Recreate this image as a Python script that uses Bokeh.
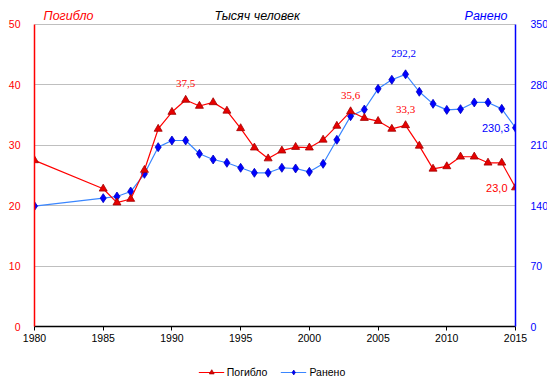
from bokeh.plotting import figure
from bokeh.layouts import column
from bokeh.models import (Range1d, LinearAxis, FixedTicker, ColumnDataSource, LabelSet,
                          Label, Legend, LegendItem)
from bokeh.embed import file_html
from bokeh.resources import INLINE

years = [1980, 1985, 1986, 1987, 1988, 1989, 1990, 1991, 1992, 1993, 1994, 1995, 1996,
         1997, 1998, 1999, 2000, 2001, 2002, 2003, 2004, 2005, 2006, 2007, 2008, 2009,
         2010, 2011, 2012, 2013, 2014, 2015]
killed = [27.5, 22.8, 20.5, 21.1, 25.9, 32.7, 35.5, 37.5, 36.5, 37.1, 35.7, 32.8, 29.6,
          27.8, 29.1, 29.7, 29.6, 30.9, 33.2, 35.6, 34.5, 34.0, 32.7, 33.3, 29.9, 26.1,
          26.5, 28.1, 28.1, 27.1, 27.1, 23.0]
injured = [139.5, 148.7, 150.6, 156.4, 176.9, 207.8, 215.5, 215.5, 200.1, 193.5, 189.7,
           183.9, 178.1, 178.1, 183.9, 183.1, 179.2, 188.5, 216.3, 243.7, 251.4, 275.4,
           285.9, 292.2, 272.0, 258.0, 251.0, 251.8, 259.6, 259.6, 252.2, 230.3]
killed_label_years = [1991, 2003, 2007]
killed_end_year = 2015
injured_label_years = [2007]
injured_end_year = 2015
left_ticks = [0, 10, 20, 30, 40, 50]
right_ticks = [0, 70, 140, 210, 280, 350]
x_ticks = [1980, 1985, 1990, 1995, 2000, 2005, 2010, 2015]
series_names = ["Погибло", "Ранено"]
header_title = "Тысяч человек"

FONT = "Liberation Sans"
RED = "#FF0000"
BLUE = "#0000FF"
BLUE_LINE = "#3A86FF"
LEFT_MAX = 50
RIGHT_MAX = 350
HEAD = 53.3  # room above the 50 line for the header texts


def fmt(v):
    return f"{v:.1f}".replace(".", ",")


p = figure(frame_width=481, frame_height=322, output_backend="svg", toolbar_location=None,
           x_range=Range1d(1980, 2015), y_range=Range1d(0, HEAD),
           min_border_left=34, min_border_right=30, min_border_top=4, min_border_bottom=30)
p.extra_y_ranges = {"right": Range1d(0, RIGHT_MAX * HEAD / LEFT_MAX)}
p.outline_line_color = None
p.background_fill_color = "white"
p.border_fill_color = "white"

p.xgrid.visible = False
p.ygrid.ticker = FixedTicker(ticks=left_ticks)
p.ygrid.grid_line_color = "#BFBFBF"
p.ygrid.grid_line_width = 1

# bottom axis
xa = p.xaxis[0]
xa.ticker = FixedTicker(ticks=x_ticks)
xa.axis_line_color = "black"
xa.axis_line_width = 1.5
xa.major_tick_line_color = "black"
xa.major_tick_out = 4
xa.major_tick_in = 0
xa.minor_tick_line_color = None
xa.major_label_standoff = 3
xa.major_label_text_font = FONT
xa.major_label_text_font_size = "10.5px"
xa.major_label_text_color = "black"

# left axis
ya = p.yaxis[0]
ya.ticker = FixedTicker(ticks=left_ticks)
ya.bounds = (0, LEFT_MAX)
ya.axis_line_color = RED
ya.axis_line_width = 1.5
ya.major_tick_line_color = None
ya.minor_tick_line_color = None
ya.major_label_standoff = 8
ya.major_label_text_font = FONT
ya.major_label_text_font_size = "10.5px"
ya.major_label_text_color = RED

# right axis
ra = LinearAxis(y_range_name="right", ticker=FixedTicker(ticks=right_ticks))
ra.bounds = (0, RIGHT_MAX)
ra.axis_line_color = BLUE
ra.axis_line_width = 1.5
ra.major_tick_line_color = None
ra.minor_tick_line_color = None
ra.major_label_standoff = 9
ra.major_label_text_font = FONT
ra.major_label_text_font_size = "10.5px"
ra.major_label_text_color = BLUE
p.add_layout(ra, "right")

src = ColumnDataSource(dict(x=years, k=killed, i=injured))

p.line("x", "i", source=src, y_range_name="right", line_color=BLUE_LINE, line_width=1.2)
p.scatter("x", "i", source=src, y_range_name="right", marker="diamond", size=9,
          fill_color=BLUE, line_color="#0000C0", line_width=0.8)
p.line("x", "k", source=src, line_color=RED, line_width=1.2)
p.scatter("x", "k", source=src, marker="triangle", size=8,
          fill_color="#E80000", line_color="#A00000", line_width=0.8)

# data labels
kl = [(y, v) for y, v in zip(years, killed) if y in killed_label_years]
ksrc = ColumnDataSource(dict(x=[a for a, _ in kl], y=[b for _, b in kl], t=[fmt(b) for _, b in kl]))
p.add_layout(LabelSet(x="x", y="y", text="t", source=ksrc, text_align="center",
                      text_baseline="middle", y_offset=16, text_color=RED,
                      text_font=FONT, text_font_size="11px"))
ke = killed[years.index(killed_end_year)]
p.add_layout(Label(x=killed_end_year, y=ke, text=fmt(ke), text_align="right",
                   text_baseline="middle", x_offset=-8, text_color=RED,
                   text_font=FONT, text_font_size="11px"))

il = [(y, v) for y, v in zip(years, injured) if y in injured_label_years]
isrc = ColumnDataSource(dict(x=[a for a, _ in il], y=[b for _, b in il], t=[fmt(b) for _, b in il]))
p.add_layout(LabelSet(x="x", y="y", text="t", source=isrc, y_range_name="right",
                      text_align="center", text_baseline="middle", y_offset=21, x_offset=-2,
                      text_color=BLUE, text_font=FONT, text_font_size="11px"))
ie = injured[years.index(injured_end_year)]
p.add_layout(Label(x=injured_end_year, y=ie, y_range_name="right", text=fmt(ie),
                   text_align="right", text_baseline="middle", x_offset=-6,
                   text_color=BLUE, text_font=FONT, text_font_size="11px"))

# header texts
HY = 51.35
p.add_layout(Label(x=1980.66, y=HY, text=series_names[0], text_align="left",
                   text_baseline="middle", text_color=RED, text_font=FONT,
                   text_font_style="italic", text_font_size="12.5px"))
p.add_layout(Label(x=1996.2, y=HY, text=header_title, text_align="center",
                   text_baseline="middle", text_color="black", text_font=FONT,
                   text_font_style="italic", text_font_size="12.5px"))
p.add_layout(Label(x=2014.42, y=HY, text=series_names[1], text_align="right",
                   text_baseline="middle", text_color=BLUE, text_font=FONT,
                   text_font_style="italic", text_font_size="12.5px"))

# legend strip below the chart (its series lie outside this strip's ranges)
lf = figure(width=545, height=32, output_backend="svg", toolbar_location=None,
            x_range=Range1d(0, 1), y_range=Range1d(0, 1),
            min_border_left=0, min_border_right=8, min_border_top=0, min_border_bottom=0)
lf.axis.visible = False
lf.grid.visible = False
lf.outline_line_color = None
lf.border_fill_color = "white"
lr1 = lf.line("x", "k", source=src, line_color=RED, line_width=1.2)
lr2 = lf.scatter("x", "k", source=src, marker="triangle", size=6,
                 fill_color="#E80000", line_color="#A00000", line_width=0.8)
lb1 = lf.line("x", "i", source=src, line_color=BLUE_LINE, line_width=1.2)
lb2 = lf.scatter("x", "i", source=src, marker="diamond", size=6,
                 fill_color=BLUE, line_color="#0000C0", line_width=0.8)
legend = Legend(items=[LegendItem(label=series_names[0], renderers=[lr1, lr2]),
                       LegendItem(label=series_names[1], renderers=[lb1, lb2])],
                orientation="horizontal", location="center",
                label_text_font=FONT, label_text_font_size="10.5px", label_text_color="black",
                glyph_width=26, glyph_height=12, label_height=12, label_standoff=3, spacing=13,
                padding=0, margin=0, border_line_color=None, background_fill_alpha=0)
lf.add_layout(legend, "center")

layout = column(p, lf, spacing=0)
open("out.html", "w").write(file_html(layout, INLINE))
